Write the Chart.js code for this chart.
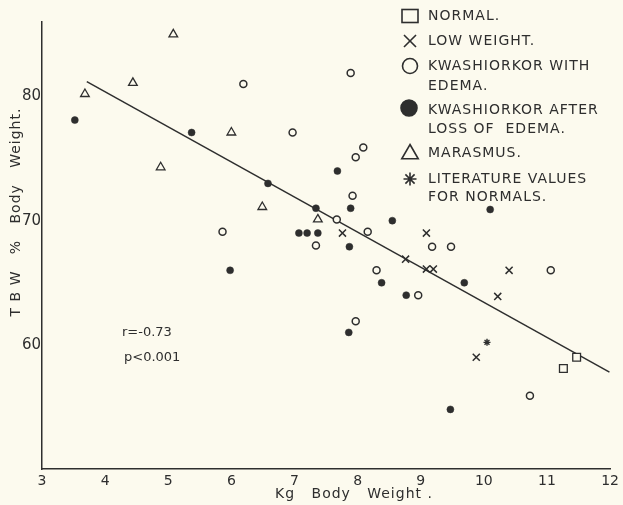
<!DOCTYPE html>
<html>
<head>
<meta charset="utf-8">
<script src="https://cdn.jsdelivr.net/npm/chart.js@4/dist/chart.umd.min.js"></script>
<style>
  html, body { margin: 0; padding: 0; background: #fcfaee; }
  canvas { display: block; }
</style>
</head>
<body>
<canvas id="c" width="623" height="505"></canvas>
<script>
// ---- data (kg body weight, TBW % body weight) ----
const normalPts = [[11.47, 59.0], [11.26, 58.1]];
const lowWeightPts = [[7.76, 69.0], [8.76, 66.9], [9.09, 66.1], [9.20, 66.1], [9.09, 69.0], [10.40, 66.0], [10.22, 63.9], [9.88, 59.0]];
const kwashEdemaPts = [[6.19, 81.0], [6.97, 77.1], [5.86, 69.1], [7.34, 68.0], [7.89, 81.9], [8.09, 75.9], [7.97, 75.1], [7.92, 72.0], [7.67, 70.1], [8.16, 69.1], [8.30, 66.0], [8.96, 64.0], [9.18, 67.9], [9.48, 67.9], [11.06, 66.0], [7.97, 61.9], [10.73, 55.9]];
const kwashAfterPts = [[3.52, 78.1], [5.37, 77.1], [6.58, 73.0], [7.34, 71.0], [7.68, 74.0], [7.89, 71.0], [7.07, 69.0], [7.20, 69.0], [7.37, 69.0], [7.87, 67.9], [8.55, 70.0], [8.38, 65.0], [8.77, 64.0], [10.10, 70.9], [9.69, 65.0], [7.86, 61.0], [9.47, 54.8], [5.98, 66.0]];
const marasmusPts = [[5.08, 85.0], [4.44, 81.1], [3.68, 80.2], [4.88, 74.3], [6.00, 77.1], [6.49, 71.1], [7.37, 70.1]];
const literaturePts = [[10.05, 60.2]];
const regressionPts = [[3.71, 81.2], [11.99, 57.8]];
const xTicks = [3, 4, 5, 6, 7, 8, 9, 10, 11, 12];
const yTicks = [60, 70, 80];
const legendLines = [
  ['NORMAL.'], ['LOW WEIGHT.'], ['KWASHIORKOR WITH', 'EDEMA.'],
  ['KWASHIORKOR AFTER', 'LOSS OF  EDEMA.'], ['MARASMUS.'], ['LITERATURE VALUES', 'FOR NORMALS.']
];
const statLines = ['r=-0.73', 'p<0.001'];

const INK = '#2e2e2e';
const BG = '#fcfaee';
const toXY = a => a.map(p => ({ x: p[0], y: p[1] }));

const bgPlugin = {
  id: 'bg',
  beforeDraw(chart) {
    const ctx = chart.ctx;
    ctx.save();
    ctx.fillStyle = BG;
    ctx.fillRect(0, 0, chart.width, chart.height);
    ctx.restore();
  }
};

const textPlugin = {
  id: 'texts',
  afterDraw(chart) {
    const ctx = chart.ctx;
    ctx.save();
    ctx.fillStyle = INK;
    ctx.strokeStyle = INK;
    // legend
    const mx = 410, tx = 428;
    const rows = [
      { y: 16, y2: null }, { y: 41 }, { y: 66, y2: 86 }, { y: 110, y2: 129 }, { y: 153 }, { y: 179, y2: 197 }
    ];
    ctx.font = '14px "DejaVu Sans"';
    ctx.letterSpacing = '1px';
    ctx.textBaseline = 'middle';
    ctx.textAlign = 'left';
    legendLines.forEach((lines, i) => {
      ctx.fillText(lines[0], tx, rows[i].y);
      if (lines[1]) ctx.fillText(lines[1], tx, rows[i].y2);
    });
    ctx.letterSpacing = '0px';
    ctx.lineWidth = 1.6;
    // square
    ctx.strokeRect(mx - 8, 16 - 6.5, 16, 13);
    // cross
    Chart.helpers.drawPoint(ctx, { pointStyle: 'crossRot', radius: 8.5, rotation: 0, borderWidth: 1.6 }, mx, 41);
    // open circle
    ctx.fillStyle = BG;
    Chart.helpers.drawPoint(ctx, { pointStyle: 'circle', radius: 7.5, rotation: 0, borderWidth: 1.6 }, mx, 66);
    // filled circle
    ctx.fillStyle = INK;
    Chart.helpers.drawPoint(ctx, { pointStyle: 'circle', radius: 8, rotation: 0, borderWidth: 1 }, mx - 1, 108);
    // triangle
    ctx.fillStyle = BG;
    Chart.helpers.drawPoint(ctx, { pointStyle: 'triangle', radius: 9.5, rotation: 0, borderWidth: 1.6 }, mx, 154);
    // asterisk
    ctx.fillStyle = INK;
    Chart.helpers.drawPoint(ctx, { pointStyle: 'star', radius: 6.5, rotation: 0, borderWidth: 1.8 }, mx, 179);

    // stats
    ctx.fillStyle = INK;
    ctx.font = '13px "DejaVu Sans"';
    ctx.textAlign = 'left';
    ctx.fillText(statLines[0], 122, 333);
    ctx.fillText(statLines[1], 124, 358);

    // x title
    ctx.font = '14px "DejaVu Sans"';
    ctx.letterSpacing = '1px';
    ctx.textAlign = 'center';
    ctx.fillText('Kg   Body   Weight .', 354, 494);
    // y title
    ctx.save();
    ctx.translate(16, 212);
    ctx.rotate(-Math.PI / 2);
    ctx.fillText('T B W   %   Body   Weight.', 0, 0);
    ctx.restore();
    ctx.restore();
  }
};

const pt = { borderColor: INK, pointBorderColor: INK };

new Chart(document.getElementById('c'), {
  type: 'scatter',
  data: {
    datasets: [
      { label: 'NORMAL.', data: toXY(normalPts), pointStyle: 'rect', pointRadius: 5.5, pointBorderWidth: 1.3, pointBackgroundColor: BG, ...pt, order: 1 },
      { label: 'LOW WEIGHT.', data: toXY(lowWeightPts), pointStyle: 'crossRot', pointRadius: 5, pointBorderWidth: 1.5, pointBackgroundColor: INK, ...pt, order: 1 },
      { label: 'KWASHIORKOR WITH EDEMA.', data: toXY(kwashEdemaPts), pointStyle: 'circle', pointRadius: 3.5, pointBorderWidth: 1.5, pointBackgroundColor: BG, ...pt, order: 1 },
      { label: 'KWASHIORKOR AFTER LOSS OF EDEMA.', data: toXY(kwashAfterPts), pointStyle: 'circle', pointRadius: 3.5, pointBorderWidth: 0.5, pointBackgroundColor: INK, ...pt, order: 1 },
      { label: 'MARASMUS.', data: toXY(marasmusPts), pointStyle: 'triangle', pointRadius: 5, pointBorderWidth: 1.3, pointBackgroundColor: BG, ...pt, order: 1 },
      { label: 'LITERATURE VALUES FOR NORMALS.', data: toXY(literaturePts), pointStyle: 'star', pointRadius: 3.5, pointBorderWidth: 1.4, pointBackgroundColor: INK, ...pt, order: 1 },
      { type: 'line', label: 'regression', data: toXY(regressionPts), borderColor: INK, borderWidth: 1.5, pointRadius: 0, fill: false, order: 10 }
    ]
  },
  options: {
    responsive: false,
    animation: false,
    devicePixelRatio: 1,
    layout: { padding: { top: 22, right: 10, left: 0, bottom: 0 } },
    plugins: { legend: { display: false }, tooltip: { enabled: false } },
    scales: {
      x: {
        type: 'linear', min: 3, max: 12,
        afterBuildTicks: s => { s.ticks = xTicks.map(v => ({ value: v })); },
        afterFit: s => { s.height = 36; },
        grid: { display: false, drawTicks: false },
        border: { display: true, color: INK, width: 1.5 },
        ticks: { color: INK, font: { family: 'DejaVu Sans', size: 14 }, padding: 4, autoSkip: false, maxRotation: 0 }
      },
      y: {
        type: 'linear', min: 50, max: 86,
        afterBuildTicks: s => { s.ticks = yTicks.map(v => ({ value: v })); },
        afterFit: s => { s.width = 42; },
        grid: { display: false, drawTicks: false },
        border: { display: true, color: INK, width: 1.5 },
        ticks: { color: INK, font: { family: 'DejaVu Sans', size: 15 }, padding: 1 }
      }
    }
  },
  plugins: [bgPlugin, textPlugin]
});
</script>
</body>
</html>
